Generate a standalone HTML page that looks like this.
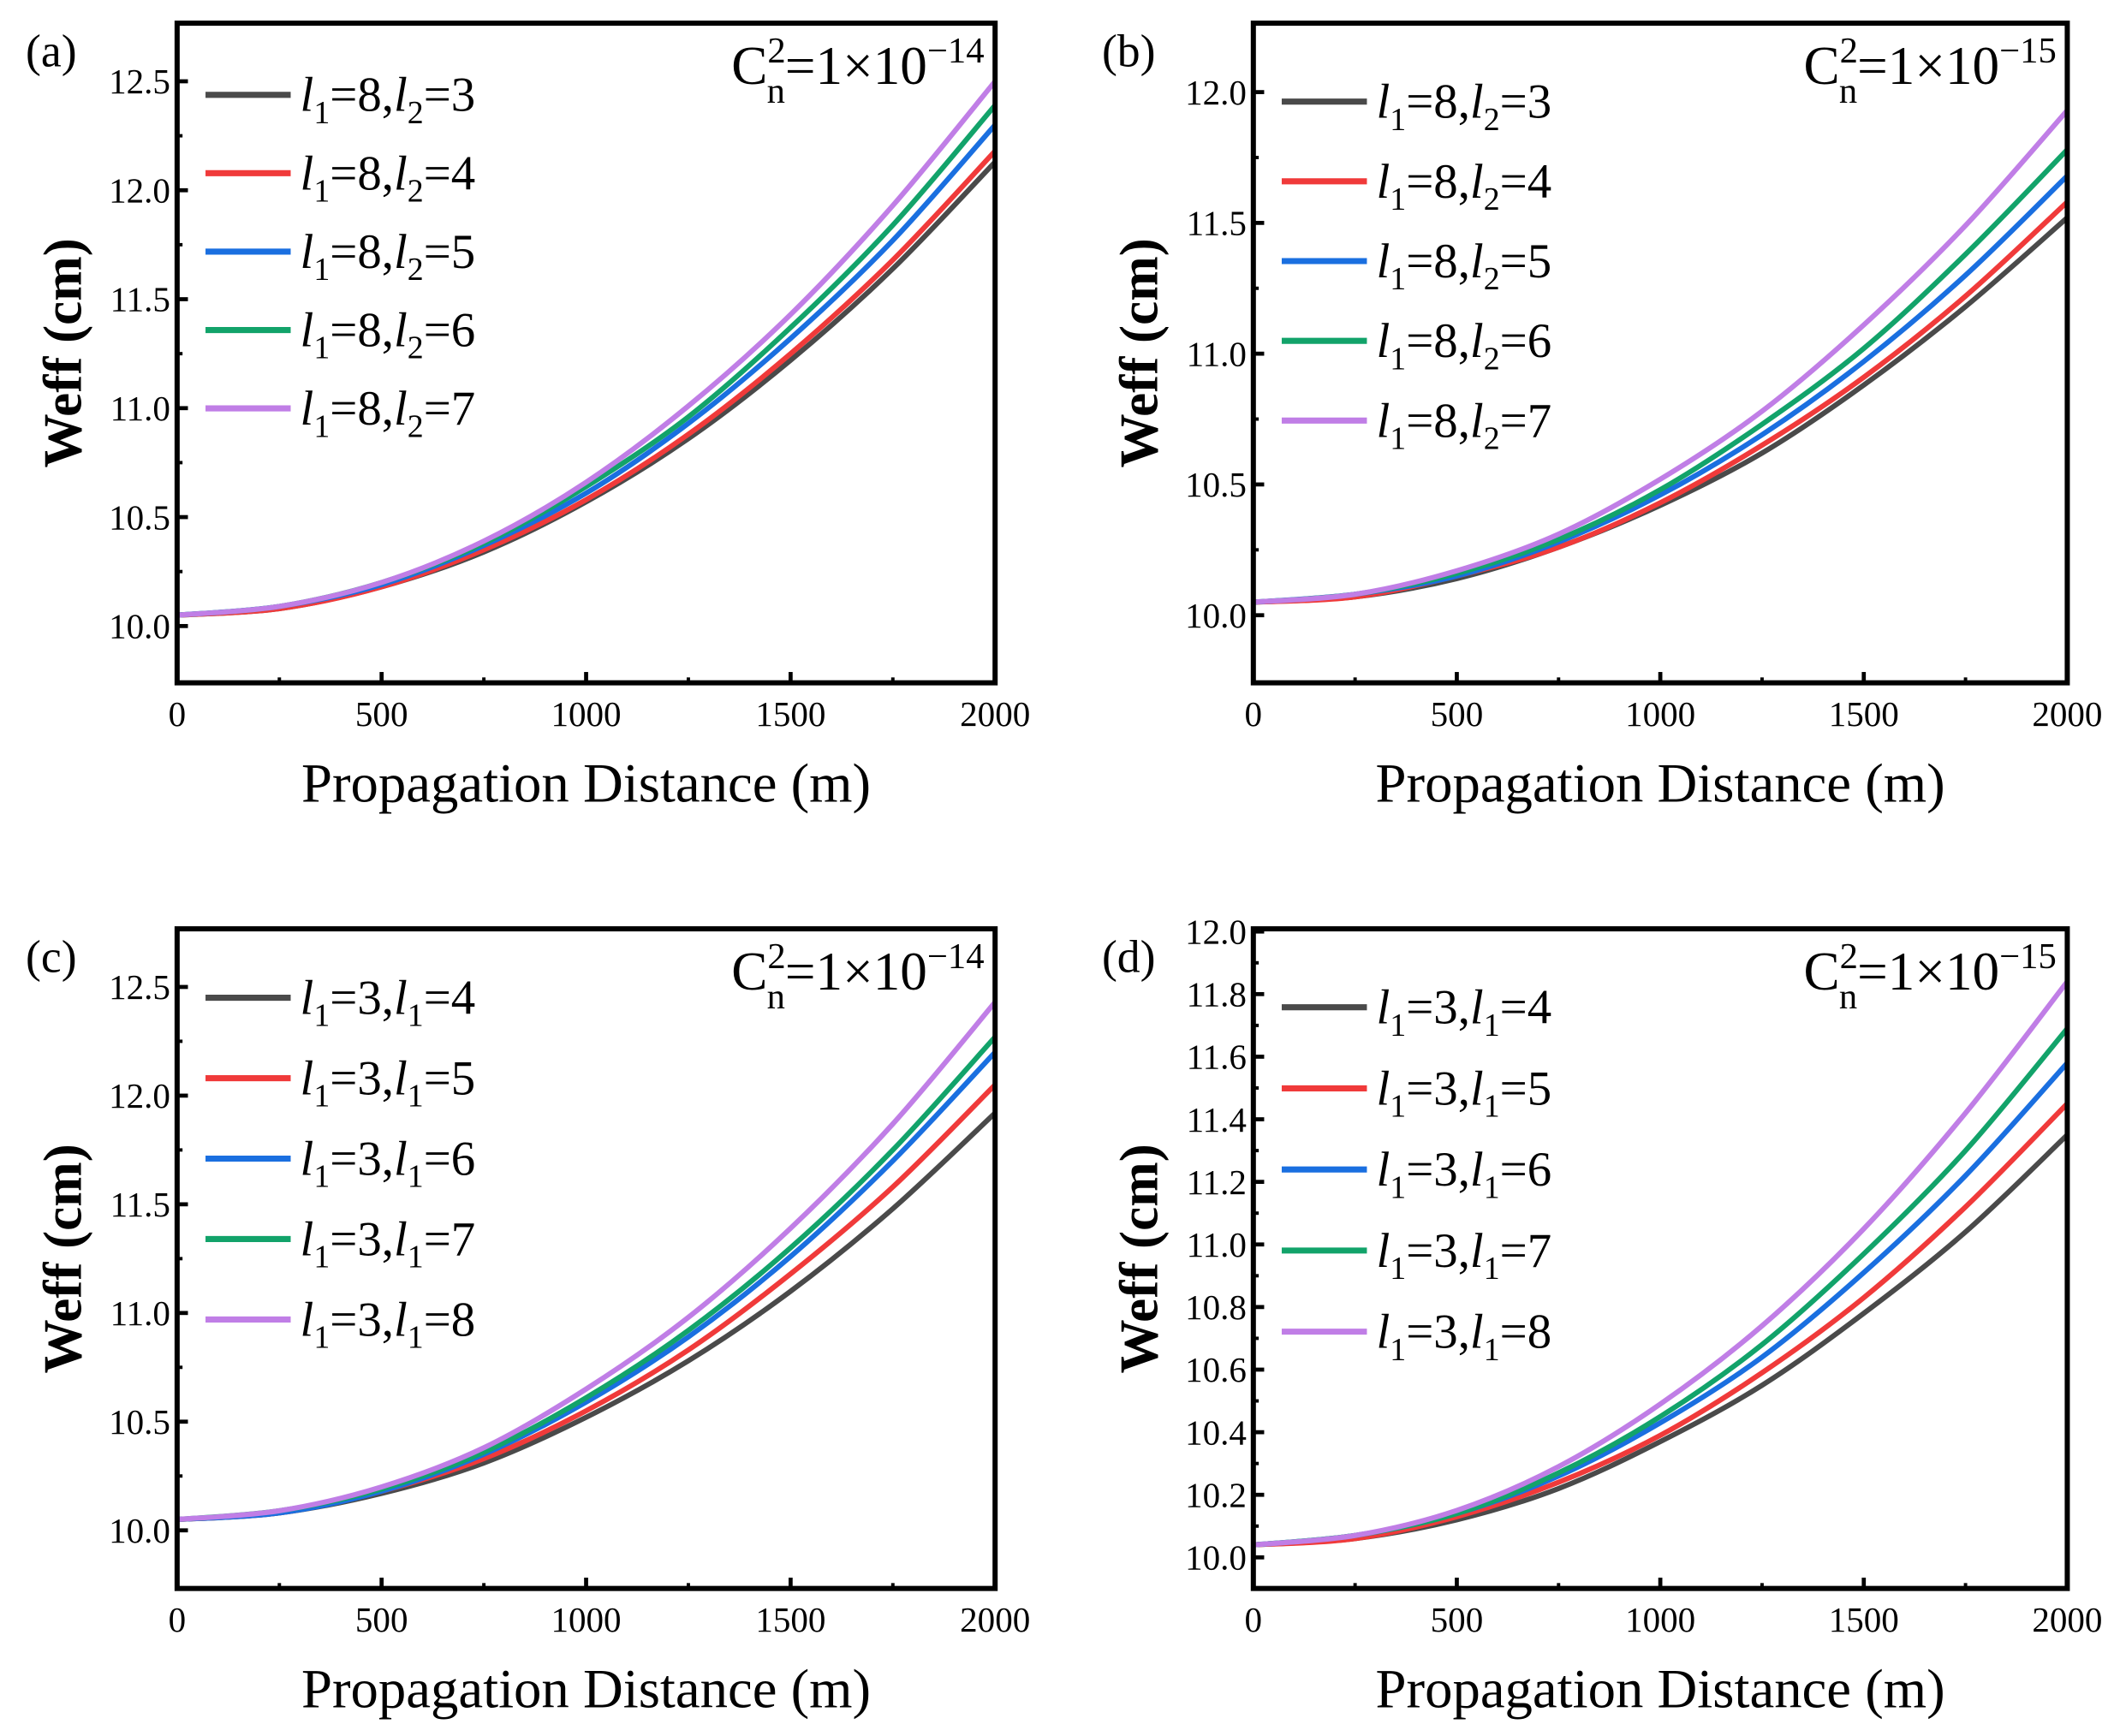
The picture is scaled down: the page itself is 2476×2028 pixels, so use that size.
<!DOCTYPE html>
<html><head><meta charset="utf-8"><style>
html,body{margin:0;padding:0;background:#fff;}
svg{display:block;}
text{font-family:"Liberation Serif","DejaVu Serif",serif;fill:#000;}
</style></head><body>
<svg id="fig" width="2476" height="2028" viewBox="0 0 1568 1284" xmlns="http://www.w3.org/2000/svg"></svg>
<script>
const distances = [0,250,500,750,1000,1250,1500,1750,2000];
const colors = ["#4a4a4a","#f03a3a","#1a6fe0","#12a36a","#c07ee6"];
// panel (a)
const aSeries0 = [10.05,10.08,10.18,10.34,10.57,10.86,11.22,11.64,12.13];
const aSeries1 = [10.05,10.08,10.18,10.35,10.58,10.88,11.25,11.68,12.18];
const aSeries2 = [10.05,10.09,10.19,10.37,10.61,10.93,11.32,11.77,12.30];
const aSeries3 = [10.05,10.09,10.20,10.38,10.64,10.96,11.37,11.84,12.39];
const aSeries4 = [10.05,10.09,10.20,10.39,10.66,11.01,11.43,11.93,12.50];
const aLabels = [["8","3"],["8","4"],["8","5"],["8","6"],["8","7"]];
// panel (b)
const bSeries0 = [10.05,10.07,10.14,10.26,10.42,10.62,10.88,11.18,11.52];
const bSeries1 = [10.05,10.07,10.15,10.26,10.43,10.65,10.91,11.22,11.58];
const bSeries2 = [10.05,10.08,10.15,10.28,10.46,10.69,10.97,11.30,11.68];
const bSeries3 = [10.05,10.08,10.16,10.29,10.48,10.73,11.02,11.38,11.78];
const bSeries4 = [10.05,10.08,10.17,10.31,10.52,10.78,11.11,11.49,11.93];
// panel (c)
const cSeries0 = [10.05,10.08,10.17,10.31,10.52,10.78,11.10,11.48,11.92];
const cSeries1 = [10.05,10.08,10.18,10.33,10.55,10.83,11.18,11.58,12.05];
const cSeries2 = [10.05,10.08,10.18,10.35,10.59,10.89,11.26,11.70,12.20];
const cSeries3 = [10.05,10.09,10.19,10.36,10.61,10.92,11.30,11.75,12.27];
const cSeries4 = [10.05,10.09,10.20,10.38,10.65,10.98,11.39,11.87,12.43];
const cLabels = [["3","4"],["3","5"],["3","6"],["3","7"],["3","8"]];
// panel (d)
const dSeries0 = [10.04,10.06,10.12,10.22,10.37,10.55,10.78,11.04,11.35];
const dSeries1 = [10.04,10.06,10.13,10.24,10.39,10.59,10.83,11.12,11.45];
const dSeries2 = [10.04,10.07,10.14,10.26,10.43,10.64,10.91,11.22,11.58];
const dSeries3 = [10.04,10.07,10.14,10.27,10.45,10.68,10.97,11.30,11.69];
const dSeries4 = [10.04,10.07,10.15,10.29,10.49,10.74,11.05,11.42,11.84];
const xTicks = [0,500,1000,1500,2000];
const xMinor = [250,750,1250,1750];
const yTicksA = [10.0,10.5,11.0,11.5,12.0,12.5];
const yTicksB = [10.0,10.5,11.0,11.5,12.0];
const yTicksD = [10.0,10.2,10.4,10.6,10.8,11.0,11.2,11.4,11.6,11.8,12.0];

const NS="http://www.w3.org/2000/svg";
const svg=document.getElementById('fig');
function mk(tag,attrs,parent){const e=document.createElementNS(NS,tag);for(const k in attrs)e.setAttribute(k,attrs[k]);(parent||svg).appendChild(e);return e;}

function panel(p){
  const g=mk('g',{});
  
  
  const X=v=>p.x0+(v-0)/(2000-0)*(p.x1-p.x0);
  const Y=v=>p.yRef0-(v-p.v0)/(p.v1-p.v0)*(p.yRef0-p.yRef1);
  p.series.forEach((s,i)=>{
    let pts=distances.map((d,j)=>[X(d),Y(s[j])]);
    let dstr='M'+pts[0][0]+','+pts[0][1];
    for(let j=0;j<pts.length-1;j++){
      const p0=pts[j-1]||pts[j],p1=pts[j],p2=pts[j+1],p3=pts[j+2]||pts[j+1];
      const c1=[p1[0]+(p2[0]-p0[0])/6,p1[1]+(p2[1]-p0[1])/6];
      const c2=[p2[0]-(p3[0]-p1[0])/6,p2[1]-(p3[1]-p1[1])/6];
      dstr+=` C${c1[0]},${c1[1]} ${c2[0]},${c2[1]} ${p2[0]},${p2[1]}`;
    }
    const path=mk('path',{d:dstr,fill:'none',stroke:colors[i],'stroke-width':3.8},g);
    
    
  });
  const fr=mk('rect',{x:p.x0,y:p.top,width:p.x1-p.x0,height:p.bot-p.top,fill:'none',stroke:'#000','stroke-width':3.8},g);
  
  
  xTicks.forEach(t=>{
    mk('line',{x1:X(t),x2:X(t),y1:p.bot,y2:p.bot-8,stroke:'#000','stroke-width':3},g);
    const tx=mk('text',{x:X(t),y:p.bot+32,'font-size':26,'text-anchor':'middle'},g);
    tx.textContent=t;
    
    
  });
  xMinor.forEach(t=>mk('line',{x1:X(t),x2:X(t),y1:p.bot,y2:p.bot-4,stroke:'#000','stroke-width':2.5},g));
  p.yTicks.forEach((t,k)=>{
    mk('line',{x1:p.x0,x2:p.x0+8,y1:Y(t),y2:Y(t),stroke:'#000','stroke-width':3},g);
    const ty=mk('text',{x:p.x0-5,y:Y(t)+9,'font-size':26,'text-anchor':'end'},g);
    ty.textContent=t.toFixed(1);
    
    
    if(k<p.yTicks.length-1){const m=(t+p.yTicks[k+1])/2;mk('line',{x1:p.x0,x2:p.x0+4,y1:Y(m),y2:Y(m),stroke:'#000','stroke-width':2.5},g);}
  });
  const xt=mk('text',{x:(p.x0+p.x1)/2,y:p.bot+88,'font-size':41,'text-anchor':'middle'},g);
  xt.textContent='Propagation Distance (m)';
  
  
  const yc=(p.top+p.bot)/2;
  const yt=mk('text',{x:p.x0-71,y:yc,'font-size':40,'text-anchor':'middle','font-weight':'bold',transform:`rotate(-90 ${p.x0-71} ${yc})`},g);
  yt.textContent='Weff (cm)';
  
  
  const pl=mk('text',{x:p.x0-112,y:p.top+32,'font-size':34},g);
  pl.textContent='('+p.id+')';
  
  
  const cn=mk('text',{x:p.x1-8,y:p.top+45,'font-size':40,'text-anchor':'end'},g);
  cn.innerHTML=`C<tspan font-size="27" dy="-16">2</tspan><tspan font-size="27" dx="-14" dy="30">n</tspan><tspan dy="-14">=1×10</tspan><tspan font-size="27" dy="-16">−${p.exp}</tspan>`;
  
  
  p.labels.forEach((lb,i)=>{
    const ly=p.legY+i*p.legStep;
    const le=mk('g',{},g);
    
    
    mk('line',{x1:p.x0+21,x2:p.x0+84,y1:ly,y2:ly,stroke:colors[i],'stroke-width':4.5},le);
    const t=mk('text',{x:p.x0+91,y:ly+12,'font-size':36},le);
    t.innerHTML=`<tspan font-style="italic">l</tspan><tspan font-size="24" dy="9">1</tspan><tspan dy="-9">=${lb[0]},</tspan><tspan font-style="italic">l</tspan><tspan font-size="24" dy="9">${p.sub2}</tspan><tspan dy="-9">=${lb[1]}</tspan>`;
  });
}

panel({id:'a',x0:131,x1:736,top:17,bot:505,v0:10.0,v1:12.5,yRef0:463,yRef1:60,yTicks:yTicksA,
  series:[aSeries0,aSeries1,aSeries2,aSeries3,aSeries4],labels:aLabels,sub2:'2',legY:70,legStep:58,exp:'14'});
panel({id:'b',x0:927,x1:1529,top:17,bot:505,v0:10.0,v1:12.0,yRef0:455,yRef1:68,yTicks:yTicksB,
  series:[bSeries0,bSeries1,bSeries2,bSeries3,bSeries4],labels:aLabels,sub2:'2',legY:75,legStep:59,exp:'15'});
panel({id:'c',x0:131,x1:736,top:687,bot:1175,v0:10.0,v1:12.5,yRef0:1132,yRef1:730,yTicks:yTicksA,
  series:[cSeries0,cSeries1,cSeries2,cSeries3,cSeries4],labels:cLabels,sub2:'1',legY:738,legStep:59.5,exp:'14'});
panel({id:'d',x0:927,x1:1529,top:687,bot:1175,v0:10.0,v1:12.0,yRef0:1152,yRef1:689,yTicks:yTicksD,
  series:[dSeries0,dSeries1,dSeries2,dSeries3,dSeries4],labels:cLabels,sub2:'1',legY:745,legStep:60,exp:'15'});
</script>
</body></html>
